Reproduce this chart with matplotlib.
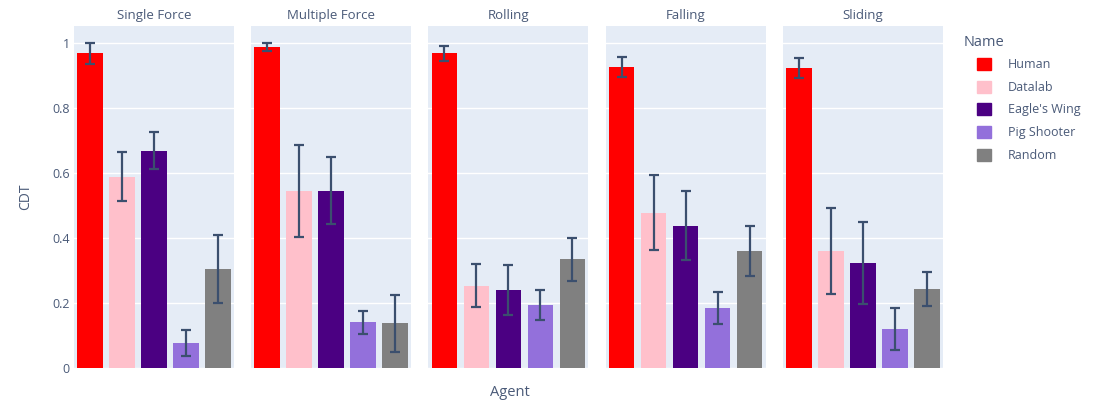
import matplotlib
matplotlib.use("Agg")
import matplotlib.pyplot as plt
import numpy as np

plt.rcParams['font.family'] = ['Open Sans', 'DejaVu Sans']

# CDT per scenario and agent, with error bar half-widths
scenarios = ["Single Force", "Multiple Force", "Rolling", "Falling", "Sliding"]
agents = ["Human", "Datalab", "Eagle's Wing", "Pig Shooter", "Random"]
agent_colors = ["#FF0000", "#FFC0CB", "#4B0082", "#9370DB", "#808080"]

cdt_single = [0.968, 0.589, 0.668, 0.078, 0.304]
cdt_multiple = [0.989, 0.545, 0.545, 0.141, 0.137]
cdt_rolling = [0.968, 0.253, 0.240, 0.194, 0.334]
cdt_falling = [0.927, 0.478, 0.438, 0.184, 0.360]
cdt_sliding = [0.924, 0.361, 0.324, 0.119, 0.244]

err_single = [0.032, 0.075, 0.057, 0.040, 0.104]
err_multiple = [0.012, 0.141, 0.103, 0.035, 0.089]
err_rolling = [0.023, 0.066, 0.078, 0.047, 0.066]
err_falling = [0.030, 0.116, 0.107, 0.050, 0.076]
err_sliding = [0.031, 0.132, 0.126, 0.065, 0.053]

cdt_values = [cdt_single, cdt_multiple, cdt_rolling, cdt_falling, cdt_sliding]
cdt_errors = [err_single, err_multiple, err_rolling, err_falling, err_sliding]

TEXT = "#4a5a78"
ERR = "#3b4f6e"
BG = "#E5ECF6"

W, H = 1101, 408
fig = plt.figure(figsize=(W / 100, H / 100), dpi=100)

left0, pw, step = 74, 160, 177.2
top, bottom = 26, 368
x = np.arange(len(agents))

for i, (name, vals, errs) in enumerate(zip(scenarios, cdt_values, cdt_errors)):
    ax = fig.add_axes([(left0 + i * step) / W, 1 - bottom / H, pw / W, (bottom - top) / H])
    ax.set_facecolor(BG)
    ax.set_axisbelow(True)
    ax.grid(axis="y", color="white", linewidth=1.0)
    for c, v, e, col in zip(x, vals, errs, agent_colors):
        ax.bar(c, v, width=0.8, color=col, zorder=2)
        ax.errorbar(c, v, yerr=e, color=ERR, elinewidth=1.6, capsize=3.6,
                    capthick=1.6, zorder=3)
    ax.set_xlim(-0.5, len(agents) - 0.5)
    ax.set_ylim(0, 1.0526)
    ax.set_yticks([0, 0.2, 0.4, 0.6, 0.8, 1.0])
    ax.set_xticks([])
    for s in ax.spines.values():
        s.set_visible(False)
    ax.tick_params(axis="y", length=0, pad=3, labelcolor=TEXT, labelsize=9)
    if i == 0:
        ax.set_yticklabels(["0", "0.2", "0.4", "0.6", "0.8", "1"])
        ax.set_ylabel("CDT", color=TEXT, fontsize=10, labelpad=14)
    else:
        ax.set_yticklabels([])
    ax.set_title(name, color=TEXT, fontsize=9.5, pad=5)

fig.text(510 / W, 1 - 392 / H, "Agent", color=TEXT, fontsize=10.5,
         ha="center", va="center")

# legend: title on its own, entries indented under it
fig.text(964 / W, 1 - 42 / H, "Name", color=TEXT, fontsize=10.5,
         ha="left", va="center")
handles = [plt.Rectangle((0, 0), 1, 1, color=c) for c in agent_colors]
leg = fig.legend(handles, agents, loc="upper left",
                 bbox_to_anchor=(977 / W, 1 - 58 / H), frameon=False,
                 fontsize=9, handlelength=1.1, handleheight=1.1,
                 handletextpad=1.35, labelspacing=0.75, borderaxespad=0,
                 borderpad=0)
for t in leg.get_texts():
    t.set_color(TEXT)

fig.savefig("out.png", dpi=100)
